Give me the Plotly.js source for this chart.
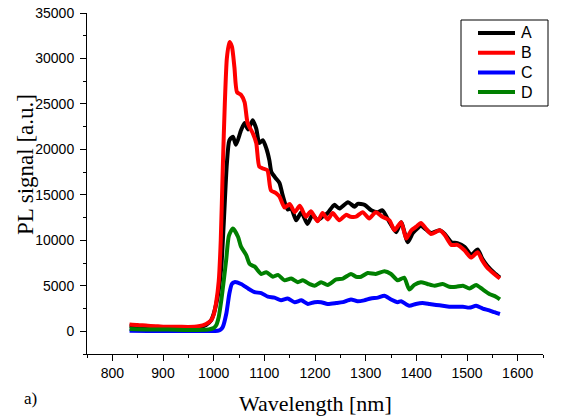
<!DOCTYPE html>
<html>
<head>
<meta charset="utf-8">
<script src="https://cdn.plot.ly/plotly-3.0.1.min.js"></script>
<style>html,body{margin:0;padding:0;background:#fff;}#chart{width:562px;height:416px;}</style>
</head>
<body>
<div id="chart"></div>
<script>
// Series names
const seriesNames = ["A", "B", "C", "D"];
const seriesColors = ["#000000", "#ff0000", "#0000ff", "#008000"];

// A (black)
const xA = [834, 850, 870, 890, 910, 930, 950, 970, 985, 995, 1000, 1005, 1010, 1015, 1020, 1026, 1031, 1038, 1044, 1054, 1061, 1068, 1077, 1084, 1090, 1097, 1104, 1110, 1114, 1123, 1130, 1136, 1146, 1153, 1163, 1173, 1185, 1195, 1205, 1215, 1225, 1238, 1248, 1265, 1278, 1284, 1298, 1311, 1324, 1333, 1347, 1360, 1370, 1383, 1393, 1402, 1409, 1419, 1429, 1446, 1456, 1469, 1481, 1495, 1508, 1521, 1530, 1540, 1554, 1565];
const yA = [600, 550, 500, 450, 400, 400, 380, 450, 700, 1200, 1900, 3000, 4500, 7000, 12000, 18400, 21000, 21400, 20500, 22100, 22900, 22200, 23200, 22300, 20700, 21000, 20100, 18800, 17500, 16800, 16300, 15000, 13400, 13500, 12200, 13100, 11800, 12800, 12200, 12600, 13000, 13900, 13500, 14200, 13700, 14000, 13900, 13300, 13100, 13300, 12000, 10900, 12000, 9800, 10800, 11300, 11600, 11200, 10800, 11100, 10700, 9800, 9700, 9300, 8400, 9000, 8000, 7200, 6400, 5900];

// B (red)
const xB = [834, 850, 870, 890, 910, 930, 950, 970, 985, 995, 1000, 1005, 1010, 1014, 1018, 1022, 1026, 1031, 1036, 1041, 1046, 1054, 1061, 1067, 1077, 1084, 1090, 1097, 1106, 1113, 1123, 1130, 1140, 1150, 1160, 1170, 1182, 1192, 1205, 1215, 1225, 1235, 1248, 1261, 1270, 1281, 1294, 1307, 1320, 1333, 1347, 1357, 1370, 1380, 1390, 1400, 1409, 1419, 1429, 1446, 1456, 1469, 1481, 1495, 1508, 1521, 1530, 1540, 1554, 1565];
const yB = [750, 700, 600, 550, 500, 500, 480, 550, 800, 1200, 1800, 3200, 5500, 10000, 18000, 25000, 30000, 31800, 31300, 29000, 26300, 26000, 25200, 22900, 21800, 20700, 18100, 17900, 17700, 15500, 15200, 14800, 13600, 14000, 13100, 13800, 12600, 13200, 12100, 13000, 12300, 13000, 12200, 12800, 12600, 12600, 13100, 12400, 13100, 12600, 12200, 11100, 12000, 10200, 11100, 11500, 11900, 11300, 10700, 11100, 10600, 9500, 9500, 8900, 8100, 8700, 7800, 7000, 6300, 5800];

// C (blue)
const xC = [834, 870, 910, 950, 990, 1008, 1013, 1018, 1025, 1031, 1036, 1041, 1054, 1068, 1081, 1094, 1107, 1120, 1133, 1146, 1160, 1173, 1186, 1199, 1212, 1225, 1242, 1255, 1271, 1284, 1297, 1310, 1324, 1337, 1350, 1363, 1370, 1386, 1399, 1412, 1426, 1439, 1452, 1465, 1479, 1492, 1505, 1518, 1531, 1544, 1554, 1565];
const yC = [50, 30, 20, 20, 20, 50, 150, 470, 1950, 4150, 5200, 5400, 5200, 4700, 4300, 4200, 3800, 3700, 3400, 3600, 3200, 3400, 3000, 3200, 3200, 3000, 3100, 3200, 3500, 3300, 3400, 3600, 3700, 3900, 3500, 3200, 3300, 2800, 3000, 3100, 3000, 2900, 2800, 2700, 2700, 2700, 2600, 2800, 2500, 2300, 2100, 1900];

// D (green)
const xD = [834, 870, 910, 950, 990, 1000, 1005, 1010, 1015, 1020, 1025, 1030, 1038, 1048, 1054, 1064, 1071, 1081, 1094, 1104, 1117, 1127, 1140, 1153, 1166, 1176, 1189, 1199, 1212, 1225, 1242, 1255, 1271, 1281, 1291, 1304, 1320, 1337, 1350, 1363, 1376, 1386, 1396, 1409, 1422, 1436, 1452, 1465, 1479, 1492, 1505, 1518, 1531, 1544, 1557, 1565];
const yD = [250, 200, 200, 150, 200, 350, 660, 1570, 3400, 5600, 8000, 10500, 11300, 10400, 9300, 8400, 7400, 7100, 6300, 6500, 6000, 6200, 5600, 5800, 5400, 5600, 5200, 5000, 5400, 5100, 5700, 5800, 6300, 6000, 6000, 6400, 6300, 6600, 6300, 5600, 5900, 4600, 5100, 5400, 5200, 5000, 5200, 4900, 4900, 5000, 4700, 5100, 4600, 4100, 3800, 3500];

const xs = [xA, xB, xC, xD];
const ys = [yA, yB, yC, yD];

const traces = seriesNames.map((n, i) => ({
  x: xs[i], y: ys[i], name: n, type: 'scatter', mode: 'lines',
  line: {color: seriesColors[i], width: 4, shape: 'spline', smoothing: 0.6},
  showlegend: false
}));

const serif = '"Liberation Serif", "Times New Roman", serif';
const sans = '"Liberation Sans", Arial, sans-serif';

// plot area geometry in pixels (for the hand-drawn legend box)
const W = 562, H = 416, mL = 87, mR = 19, mT = 13, mB = 62;
const pw = W - mL - mR, ph = H - mT - mB;
const px = v => (v - mL) / pw;
const py = v => (H - mB - v) / ph;

const shapes = [
  {type: 'rect', xref: 'paper', yref: 'paper', x0: px(461), x1: px(548), y0: py(106), y1: py(20),
   line: {color: '#000', width: 1}, fillcolor: '#fff', layer: 'above'}
];
const annotations = [
  {text: 'Wavelength [nm]', xref: 'paper', yref: 'paper', x: 0.5, y: -0.145, xanchor: 'center', yanchor: 'middle', showarrow: false, font: {family: serif, size: 22, color: '#000'}},
  {text: 'PL signal [a.u.]', xref: 'paper', yref: 'paper', x: -0.136, y: 0.557, xanchor: 'center', yanchor: 'middle', textangle: -90, showarrow: false, font: {family: serif, size: 23, color: '#000'}},
  {text: 'a)', xref: 'paper', yref: 'paper', x: -0.125, y: -0.13, xanchor: 'center', yanchor: 'middle', showarrow: false, font: {family: serif, size: 17, color: '#000'}}
];
seriesNames.forEach((n, i) => {
  const yy = 33 + i * 19.7;
  shapes.push({type: 'line', xref: 'paper', yref: 'paper', x0: px(478), x1: px(515), y0: py(yy), y1: py(yy),
    line: {color: seriesColors[i], width: 4}, layer: 'above'});
  annotations.push({text: n, xref: 'paper', yref: 'paper', x: px(519), y: py(yy), xanchor: 'left', yanchor: 'middle',
    showarrow: false, font: {family: sans, size: 16, color: '#000'}});
});

const layout = {
  width: W, height: H,
  margin: {l: mL, r: mR, t: mT, b: mB},
  paper_bgcolor: '#fff', plot_bgcolor: '#fff',
  showlegend: false,
  xaxis: {
    range: [750, 1650], tick0: 800, dtick: 100,
    showgrid: false, zeroline: false,
    showline: true, linecolor: '#000', linewidth: 1,
    ticks: 'outside', ticklen: 6, tickcolor: '#000', tickwidth: 1,
    tickformat: 'd',
    tickfont: {family: sans, size: 14, color: '#000'},
    minor: {dtick: 50, tick0: 750, ticks: 'outside', ticklen: 3, tickcolor: '#000', showgrid: false}
  },
  yaxis: {
    range: [-2500, 35000], tick0: 0, dtick: 5000,
    showgrid: false, zeroline: false,
    showline: true, linecolor: '#000', linewidth: 1,
    ticks: 'outside', ticklen: 6, tickcolor: '#000', tickwidth: 1,
    ticklabelstandoff: 3,
    tickformat: 'd',
    tickfont: {family: sans, size: 14, color: '#000'},
    minor: {dtick: 2500, tick0: 0, ticks: 'outside', ticklen: 3, tickcolor: '#000', showgrid: false}
  },
  shapes: shapes,
  annotations: annotations
};

Plotly.newPlot('chart', traces, layout, {displayModeBar: false, staticPlot: true});
</script>
</body>
</html>
